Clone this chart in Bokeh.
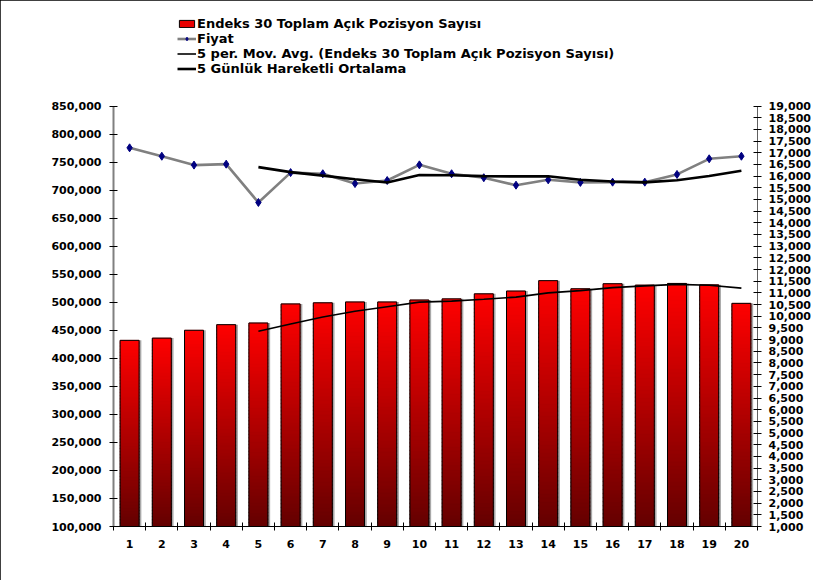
import pandas as pd
from bokeh.plotting import figure
from bokeh.models import (Range1d, LinearAxis, FixedTicker, NumeralTickFormatter,
                          Legend, LegendItem, ColumnDataSource)
from bokeh.embed import file_html
from bokeh.resources import INLINE

# ---- data ----
days = list(range(1, 21))
open_interest = [432000, 436000, 450000, 460000, 463000, 497000, 499000, 500500, 500500, 504000,
                 506000, 515000, 520000, 538500, 524000, 533000, 530500, 533500, 531000, 498000]
price = [17210, 16850, 16470, 16510, 14870, 16150, 16100, 15680, 15810, 16480,
         16100, 15930, 15610, 15840, 15730, 15740, 15740, 16070, 16740, 16850]
left_ticks = list(range(100000, 850001, 50000))
right_ticks = list(range(1000, 19001, 500))

oi_ma = pd.Series(open_interest).rolling(5).mean()
price_ma = pd.Series(price).rolling(5).mean()

BASE = 100000
HALF = 0.295
FONT = "DejaVu Sans"

# the frame extends above the axes (legend lives there); axes are bounded
FRAME_H = 519.0
AXIS_H = 420.5
left_lo, left_hi = 100000, 850000
right_lo, right_hi = 1000, 19000
left_top = left_lo + (left_hi - left_lo) * FRAME_H / AXIS_H
right_top = right_lo + (right_hi - right_lo) * FRAME_H / AXIS_H

p = figure(width=813, height=580, x_range=Range1d(0.5, 20.5), y_range=Range1d(left_lo, left_top),
           output_backend="svg", toolbar_location=None,
           min_border_left=113, min_border_right=56, min_border_top=7, min_border_bottom=54)
p.styles = {"outline": "1px solid black", "outline-offset": "-1px"}
p.extra_y_ranges = {"price": Range1d(right_lo, right_top)}
p.xgrid.visible = False
p.ygrid.visible = False
p.outline_line_color = None
p.background_fill_color = "white"

# shadow of bars
p.quad(left=[d - HALF + 0.07 for d in days], right=[d + HALF + 0.07 for d in days],
       bottom=[BASE] * 20, top=open_interest, fill_color="#A8A8A8", line_color=None)

# gradient bars built from slices
N = 60
top_rgb = (255, 0, 0)
bot_rgb = (100, 0, 0)
L, R, B, T, C = [], [], [], [], []
for d, v in zip(days, open_interest):
    h = (v - BASE) / N
    for k in range(N):
        t = (k + 0.5) / N
        col = tuple(int(round(bot_rgb[j] + (top_rgb[j] - bot_rgb[j]) * t)) for j in range(3))
        L.append(d - HALF)
        R.append(d + HALF)
        B.append(BASE + h * k)
        T.append(min(v, BASE + h * (k + 1) + h * 0.3))
        C.append("#%02x%02x%02x" % col)
p.quad(source=ColumnDataSource(dict(left=L, right=R, bottom=B, top=T, color=C)),
       left="left", right="right", bottom="bottom", top="top",
       fill_color="color", line_color="color", line_width=0.5)

# bar outline
p.quad(left=[d - HALF for d in days], right=[d + HALF for d in days], bottom=[BASE] * 20,
       top=open_interest, fill_color=None, line_color="black", line_width=1)

# legend proxy for bars
bar_leg = p.vbar(x=[days[0]], top=[open_interest[0]], bottom=[BASE], width=0.5,
                 fill_color="#E80000", line_color="black", line_width=1)
bar_leg.visible = False

# moving average of open interest (left axis)
oi_ma_r = p.line(days, oi_ma, line_color="black", line_width=1.6)

# price line and markers (right axis)
price_line = p.line(days, price, y_range_name="price", line_color="#808080", line_width=2.6)
price_pts = p.scatter(days, price, y_range_name="price", marker="diamond", size=8,
                      fill_color="#000080", line_color="#000080")
price_ma_r = p.line(days, price_ma, y_range_name="price", line_color="black", line_width=2.6)

# axes
xa = p.xaxis[0]
xa.ticker = FixedTicker(ticks=days, minor_ticks=[d - 0.5 for d in days] + [20.5])
xa.major_tick_line_color = None
xa.major_tick_in = 0
xa.major_tick_out = 0
xa.minor_tick_in = 4
xa.minor_tick_out = 4
xa.minor_tick_line_color = "black"
xa.axis_line_color = "black"
xa.major_label_standoff = 9

ya = p.yaxis[0]
ya.ticker = FixedTicker(ticks=left_ticks)
ya.bounds = (left_lo, left_hi)
ya.formatter = NumeralTickFormatter(format="0,0")
ya.minor_tick_line_color = None
ya.major_tick_in = 4
ya.major_tick_out = 4
ya.major_tick_line_color = "black"
ya.axis_line_color = "#808080"
ya.axis_line_width = 2
ya.major_label_standoff = 8

ra = LinearAxis(y_range_name="price", ticker=FixedTicker(ticks=right_ticks),
                formatter=NumeralTickFormatter(format="0,0"), bounds=(right_lo, right_hi))
ra.minor_tick_line_color = None
ra.major_tick_in = 4
ra.major_tick_out = 4
ra.major_tick_line_color = "black"
ra.axis_line_color = "#606060"
ra.major_label_standoff = 7
p.add_layout(ra, "right")

for ax in (xa, ya, ra):
    ax.major_label_text_font = FONT
    ax.major_label_text_font_style = "bold"
    ax.major_label_text_font_size = "11px"
    ax.major_label_text_color = "black"

legend = Legend(items=[
    LegendItem(label="Endeks 30 Toplam Açık Pozisyon Sayısı", renderers=[bar_leg]),
    LegendItem(label="Fiyat", renderers=[price_line, price_pts]),
    LegendItem(label="5 per. Mov. Avg. (Endeks 30 Toplam Açık Pozisyon Sayısı)", renderers=[oi_ma_r]),
    LegendItem(label="5 Günlük Hareketli Ortalama", renderers=[price_ma_r]),
], location=(64, 450))
legend.label_text_font = FONT
legend.label_text_font_style = "bold"
legend.label_text_font_size = "13px"
legend.label_text_color = "black"
legend.glyph_width = 19
legend.glyph_height = 9
legend.label_height = 15
legend.label_standoff = 1
legend.spacing = 0
legend.padding = 0
legend.margin = 0
legend.border_line_color = None
legend.background_fill_alpha = 0
p.add_layout(legend, "center")

open("out.html", "w").write(file_html(p, INLINE))
